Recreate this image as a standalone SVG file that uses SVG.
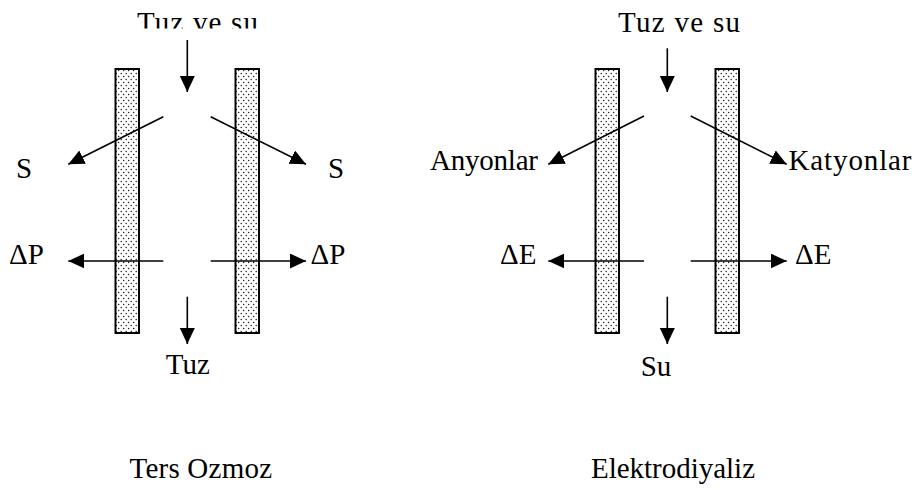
<svg xmlns="http://www.w3.org/2000/svg" width="921" height="490" viewBox="0 0 921 490">
<style>
text{font-family:'Liberation Serif','Times New Roman',serif;font-size:29px;fill:#000}
.mem{fill:url(#dots);stroke:#000;stroke-width:2}
.arr{stroke:#000;stroke-width:1.6;fill:none;marker-end:url(#ah)}
</style>
<defs>
<pattern id="dots" patternUnits="userSpaceOnUse" width="5" height="6">
<rect width="5" height="6" fill="#fff"/>
<circle cx="1.2" cy="1.5" r="0.65" fill="#000"/>
<circle cx="3.7" cy="4.5" r="0.65" fill="#000"/>
</pattern>
<marker id="ah" markerUnits="userSpaceOnUse" markerWidth="18" markerHeight="18" refX="16" refY="7.5" orient="auto">
<path d="M0,0 L16,7.5 L0,15 z" fill="#000"/>
</marker>
<clipPath id="topclip"><rect x="100" y="0" width="200" height="28.5"/></clipPath>
</defs>

<g id="ters-ozmoz">
<g id="membrane-ro-left"><rect class="mem" x="115.5" y="69" width="23.5" height="264"/></g>
<g id="membrane-ro-right"><rect class="mem" x="235.5" y="69" width="23.5" height="264"/></g>
<g id="label-ro-feed"><text x="137" y="31.5" textLength="121" clip-path="url(#topclip)">Tuz ve su</text></g>
<g id="label-ro-s-left"><text x="16" y="178">S</text></g>
<g id="label-ro-s-right"><text x="328" y="178">S</text></g>
<g id="label-ro-dp-left"><text x="9" y="263.5">ΔP</text></g>
<g id="label-ro-dp-right"><text x="310.5" y="263.5">ΔP</text></g>
<g id="label-ro-out"><text x="165.7" y="373.5">Tuz</text></g>
<g id="title-ro"><text x="129.5" y="478" textLength="142.5">Ters Ozmoz</text></g>
</g>

<g id="elektrodiyaliz">
<g id="membrane-ed-left"><rect class="mem" x="595.5" y="69" width="23.5" height="264"/></g>
<g id="membrane-ed-right"><rect class="mem" x="715.5" y="69" width="23.5" height="264"/></g>
<g id="label-ed-feed"><text x="618" y="31.5" textLength="122">Tuz ve su</text></g>
<g id="label-ed-anyon"><text x="430" y="170" textLength="108">Anyonlar</text></g>
<g id="label-ed-katyon"><text x="788.5" y="170" textLength="123">Katyonlar</text></g>
<g id="label-ed-de-left"><text x="500" y="263.5">ΔE</text></g>
<g id="label-ed-de-right"><text x="795" y="263.5">ΔE</text></g>
<g id="label-ed-out"><text x="640.7" y="375.5">Su</text></g>
<g id="title-ed"><text x="591" y="478" textLength="164">Elektrodiyaliz</text></g>
</g>

<g id="connectors">
<line class="arr" x1="187.3" y1="40" x2="187.3" y2="92"/>
<line class="arr" x1="163.3" y1="116.7" x2="68.3" y2="164.3"/>
<line class="arr" x1="210.7" y1="116.7" x2="306" y2="164.3"/>
<line class="arr" x1="163.3" y1="261" x2="68.3" y2="261"/>
<line class="arr" x1="210.7" y1="261" x2="306" y2="261"/>
<line class="arr" x1="187.3" y1="296.7" x2="187.3" y2="344"/>

<line class="arr" x1="667.3" y1="48.3" x2="667.3" y2="92"/>
<line class="arr" x1="644" y1="116" x2="548.3" y2="164.3"/>
<line class="arr" x1="690.7" y1="116" x2="786.7" y2="164.3"/>
<line class="arr" x1="644" y1="261" x2="548.3" y2="261"/>
<line class="arr" x1="690.7" y1="261" x2="786.7" y2="261"/>
<line class="arr" x1="667.3" y1="296.7" x2="667.3" y2="344"/>
</g>
</svg>
